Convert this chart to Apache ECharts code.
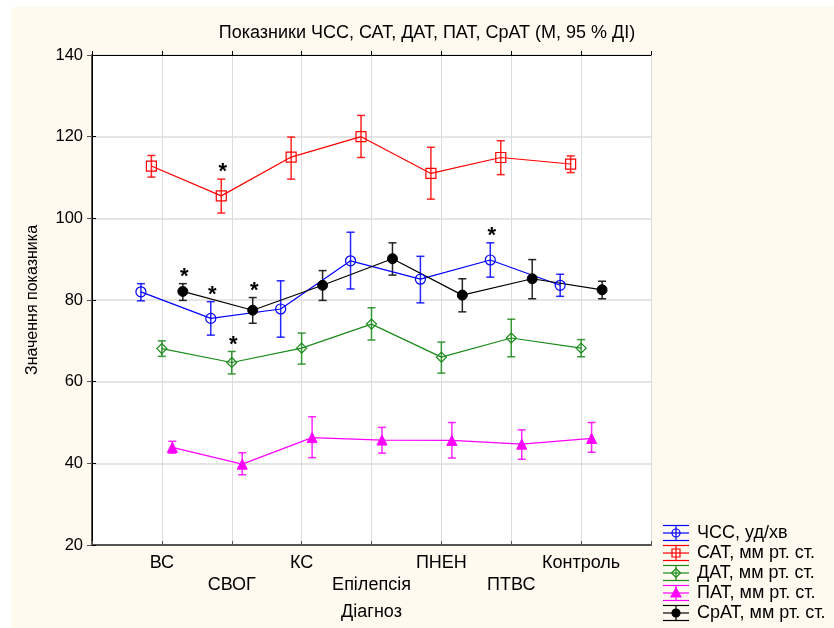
<!DOCTYPE html>
<html>
<head>
<meta charset="utf-8">
<script src="https://cdn.jsdelivr.net/npm/echarts@6/dist/echarts.min.js"></script>
<style>
  html, body { margin: 0; padding: 0; background: #fff; }
  #chart { width: 834px; height: 628px; }
</style>
</head>
<body>
<div id="chart"></div>
<script>
// Diagnosis groups along the x axis
const categories = ['ВС', 'СВОГ', 'КС', 'Епілепсія', 'ПНЕН', 'ПТВС', 'Контроль'];

// Y axis ticks
const yTicks = [20, 40, 60, 80, 100, 120, 140];

// ЧСС, уд/хв — mean and 95 % CI
const hrMean = [82.0, 75.5, 77.8, 89.6, 85.1, 89.8, 83.6];
const hrLow  = [79.8, 71.4, 70.9, 82.7, 79.3, 85.6, 80.9];
const hrHigh = [84.0, 79.6, 84.7, 96.6, 90.7, 94.0, 86.3];
const hrSig  = [0, 1, 0, 0, 0, 1, 0];

// САТ, мм рт. ст.
const sbpMean = [112.8, 105.5, 115.0, 120.0, 111.0, 114.9, 113.3];
const sbpLow  = [110.1, 101.3, 109.6, 114.9, 104.7, 110.7, 111.2];
const sbpHigh = [115.4, 109.6, 119.9, 125.2, 117.4, 119.0, 115.3];
const sbpSig  = [0, 1, 0, 0, 0, 0, 0];

// ДАТ, мм рт. ст.
const dbpMean = [68.1, 64.7, 68.2, 74.1, 66.0, 70.7, 68.2];
const dbpLow  = [66.2, 61.9, 64.3, 70.2, 62.1, 66.1, 66.1];
const dbpHigh = [70.0, 67.4, 71.9, 78.1, 69.7, 75.3, 70.3];
const dbpSig  = [0, 1, 0, 0, 0, 0, 0];

// ПАТ, мм рт. ст.
const ppMean = [43.9, 39.8, 46.3, 45.7, 45.6, 44.7, 46.1];
const ppLow  = [42.5, 37.2, 41.4, 42.5, 41.3, 41.0, 42.7];
const ppHigh = [45.4, 42.6, 51.4, 48.8, 50.0, 48.2, 50.0];
const ppSig  = [0, 0, 0, 0, 0, 0, 0];

// СрАТ, мм рт. ст.
const mapMean = [82.1, 77.5, 83.6, 90.1, 81.2, 85.2, 82.5];
const mapLow  = [79.9, 74.3, 79.9, 86.1, 77.1, 80.3, 80.3];
const mapHigh = [84.0, 80.6, 87.2, 94.0, 85.2, 89.9, 84.6];
const mapSig  = [1, 1, 0, 0, 0, 0, 0];

const FONT = '"Liberation Sans", Arial, sans-serif';

// Series definitions: name, data, colour, marker style and horizontal dodge
const seriesDefs = [
  { name: 'ЧСС, уд/хв',        mean: hrMean,  low: hrLow,  high: hrHigh,  sig: hrSig,  color: '#0000ff', marker: 'circle',  filled: false, dx: -0.30 },
  { name: 'САТ, мм рт. ст.',   mean: sbpMean, low: sbpLow, high: sbpHigh, sig: sbpSig, color: '#ff0000', marker: 'rect',    filled: false, dx: -0.15 },
  { name: 'ДАТ, мм рт. ст.',   mean: dbpMean, low: dbpLow, high: dbpHigh, sig: dbpSig, color: '#1a8a1a', marker: 'diamond', filled: false, dx: 0 },
  { name: 'ПАТ, мм рт. ст.',   mean: ppMean,  low: ppLow,  high: ppHigh,  sig: ppSig,  color: '#ff00ff', marker: 'triangle',filled: true,  dx: 0.15 },
  { name: 'СрАТ, мм рт. ст.',  mean: mapMean, low: mapLow, high: mapHigh, sig: mapSig, color: '#000000', marker: 'circle',  filled: true,  dx: 0.30 }
];

function errorBarRenderer(color) {
  return function (params, api) {
    const x = api.value(0), lo = api.value(1), hi = api.value(2), sig = api.value(3);
    const pHi = api.coord([x, hi]);
    const pLo = api.coord([x, lo]);
    const cap = 4;
    const style = { stroke: color, lineWidth: 1.5, opacity: 0.85 };
    const children = [
      { type: 'line', shape: { x1: pHi[0], y1: pHi[1], x2: pLo[0], y2: pLo[1] }, style },
      { type: 'line', shape: { x1: pHi[0] - cap, y1: pHi[1], x2: pHi[0] + cap, y2: pHi[1] }, style },
      { type: 'line', shape: { x1: pLo[0] - cap, y1: pLo[1], x2: pLo[0] + cap, y2: pLo[1] }, style }
    ];
    if (sig) {
      children.push({
        type: 'text',
        style: {
          text: '*', x: pHi[0] + 1.5, y: pHi[1] + 4,
          align: 'center', verticalAlign: 'bottom',
          fill: '#000', font: 'bold 22px ' + FONT
        }
      });
    }
    return { type: 'group', children };
  };
}

const series = [];
seriesDefs.forEach(def => {
  series.push({
    name: def.name + ' CI',
    type: 'custom',
    renderItem: errorBarRenderer(def.color),
    encode: { x: 0, y: [1, 2] },
    data: def.mean.map((m, i) => [i + 1 + def.dx, def.low[i], def.high[i], def.sig[i]]),
    z: 2,
    silent: true
  });
  series.push({
    name: def.name,
    type: 'line',
    data: def.mean.map((m, i) => [i + 1 + def.dx, m]),
    symbol: def.marker,
    symbolSize: 10,
    lineStyle: { color: def.color, width: 1.2 },
    itemStyle: def.filled
      ? { color: def.color, borderColor: def.color, borderWidth: 1 }
      : { color: 'rgba(0,0,0,0)', borderColor: def.color, borderWidth: 1.2 },
    z: 3,
    silent: true,
    animation: false
  });
});

// Legend entries drawn as small error-bar glyphs
const legendGraphics = [];
seriesDefs.forEach((def, k) => {
  const cy = 533 + k * 20;
  const x0 = 663, x1 = 689, xc = 676;
  const s = { stroke: def.color, lineWidth: 1.2 };
  const kids = [
    { type: 'line', shape: { x1: x0, y1: cy - 7.5, x2: x1, y2: cy - 7.5 }, style: s },
    { type: 'line', shape: { x1: x0, y1: cy, x2: x1, y2: cy }, style: s },
    { type: 'line', shape: { x1: x0, y1: cy + 7.5, x2: x1, y2: cy + 7.5 }, style: s },
    { type: 'line', shape: { x1: xc, y1: cy - 7.5, x2: xc, y2: cy + 7.5 }, style: s }
  ];
  const fill = def.filled ? def.color : 'rgba(0,0,0,0)';
  const ms = { stroke: def.color, lineWidth: 1.2, fill };
  if (def.marker === 'circle') kids.push({ type: 'circle', shape: { cx: xc, cy, r: 4 }, style: ms });
  if (def.marker === 'rect') kids.push({ type: 'rect', shape: { x: xc - 4, y: cy - 4, width: 8, height: 8 }, style: ms });
  if (def.marker === 'diamond') kids.push({ type: 'polygon', shape: { points: [[xc, cy - 4.5], [xc + 4.5, cy], [xc, cy + 4.5], [xc - 4.5, cy]] }, style: ms });
  if (def.marker === 'triangle') kids.push({ type: 'polygon', shape: { points: [[xc, cy - 5], [xc + 5, cy + 4], [xc - 5, cy + 4]] }, style: ms });
  kids.push({ type: 'text', style: { text: def.name, x: 697, y: cy, verticalAlign: 'middle', fill: '#000', font: '18px ' + FONT } });
  legendGraphics.push({ type: 'group', children: kids });
});

const chart = echarts.init(document.getElementById('chart'), null, { renderer: 'canvas' });
chart.setOption({
  animation: false,
  backgroundColor: '#fffaf0',
  textStyle: { fontFamily: FONT },
  title: {
    text: 'Показники ЧСС, САТ, ДАТ, ПАТ, СрАТ (М, 95 % ДІ)',
    left: 422, top: 19, textAlign: 'center',
    textStyle: { fontSize: 18, fontWeight: 'normal', color: '#000', fontFamily: FONT }
  },
  grid: { left: 92, right: 183, top: 55, bottom: 83, show: true, backgroundColor: '#ffffff', borderWidth: 0 },
  xAxis: [
    {
      type: 'value', position: 'bottom', min: 0, max: 8, interval: 1,
      name: 'Діагноз', nameLocation: 'middle', nameGap: 58,
      nameTextStyle: { fontSize: 18, color: '#000' },
      axisLine: { show: true, lineStyle: { color: '#555', width: 2 } },
      axisTick: { show: true, inside: true, length: 4, lineStyle: { color: '#555' } },
      splitLine: { show: true, lineStyle: { color: '#dcdcdc', width: 1 } },
      axisLabel: {
        fontSize: 18, color: '#000', margin: 7, lineHeight: 22,
        showMinLabel: true, showMaxLabel: true,
        formatter: v => {
          const i = Math.round(v) - 1;
          if (i < 0 || i >= categories.length) return '';
          return i % 2 === 1 ? '\n' + categories[i] : categories[i];
        }
      }
    },
    {
      type: 'value', position: 'top', min: 0, max: 8, interval: 1,
      axisLine: { show: true, lineStyle: { color: '#000', width: 1 } },
      axisTick: { show: true, length: 4, lineStyle: { color: '#000' } },
      axisLabel: { show: false }, splitLine: { show: false }
    }
  ],
  yAxis: [
    {
      type: 'value', position: 'left', min: yTicks[0], max: yTicks[yTicks.length - 1], interval: 20,
      name: 'Значення показника', nameLocation: 'middle', nameGap: 51, nameRotate: 90,
      nameTextStyle: { fontSize: 16, color: '#000' },
      axisLine: { show: true, lineStyle: { color: '#555', width: 2 } },
      axisTick: { show: true, length: 5, lineStyle: { color: '#555' } },
      splitLine: { show: true, lineStyle: { color: '#dcdcdc', width: 1.5 } },
      axisLabel: { fontSize: 16.5, color: '#000', margin: 9 }
    },
    {
      type: 'value', position: 'right', min: yTicks[0], max: yTicks[yTicks.length - 1], interval: 20,
      axisLine: { show: true, lineStyle: { color: '#000', width: 1 } },
      axisTick: { show: true, length: 4, lineStyle: { color: '#000' } },
      axisLabel: { show: false }, splitLine: { show: false }
    }
  ],
  series,
  graphic: [
    { type: 'rect', shape: { x: 0, y: 0, width: 834, height: 7 }, style: { fill: '#ffffff' }, silent: true },
    { type: 'rect', shape: { x: 0, y: 0, width: 11, height: 628 }, style: { fill: '#ffffff' }, silent: true },
    ...legendGraphics
  ]
});
</script>
</body>
</html>
